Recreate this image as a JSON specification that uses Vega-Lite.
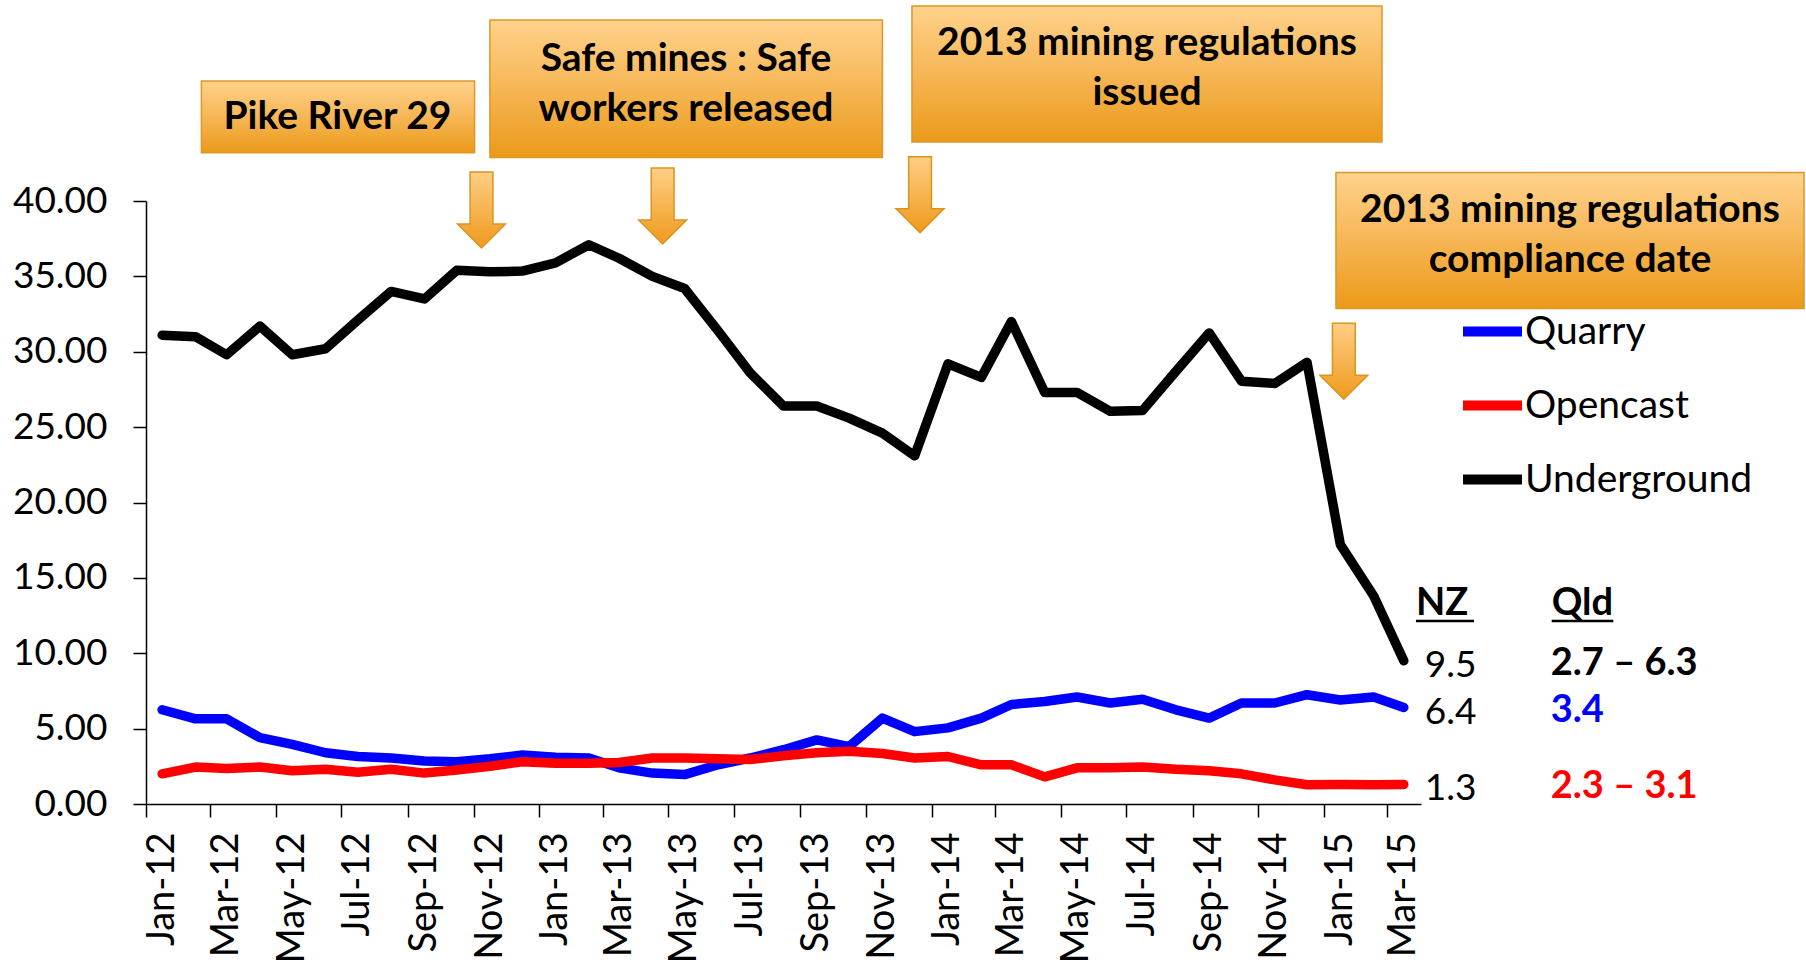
{
  "$schema": "https://vega.github.io/schema/vega-lite/v6.json",
  "width": 1275,
  "height": 603,
  "autosize": {"type": "none"},
  "padding": {"left": 146, "top": 201, "right": 385, "bottom": 161},
  "background": "white",
  "config": {"view": {"stroke": null}, "font": "Lato"},
  "datasets": {
    "rates": [
      {"date":"2012-01-01","Quarry":6.25,"Opencast":2.0,"Underground":31.1},
      {"date":"2012-02-01","Quarry":5.65,"Opencast":2.45,"Underground":31.0},
      {"date":"2012-03-01","Quarry":5.65,"Opencast":2.35,"Underground":29.8},
      {"date":"2012-04-01","Quarry":4.4,"Opencast":2.45,"Underground":31.7},
      {"date":"2012-05-01","Quarry":3.95,"Opencast":2.2,"Underground":29.8},
      {"date":"2012-06-01","Quarry":3.4,"Opencast":2.3,"Underground":30.2},
      {"date":"2012-07-01","Quarry":3.15,"Opencast":2.1,"Underground":32.1},
      {"date":"2012-08-01","Quarry":3.05,"Opencast":2.3,"Underground":34.0},
      {"date":"2012-09-01","Quarry":2.85,"Opencast":2.05,"Underground":33.5},
      {"date":"2012-10-01","Quarry":2.8,"Opencast":2.25,"Underground":35.4},
      {"date":"2012-11-01","Quarry":3.0,"Opencast":2.5,"Underground":35.3},
      {"date":"2012-12-01","Quarry":3.25,"Opencast":2.8,"Underground":35.35},
      {"date":"2013-01-01","Quarry":3.1,"Opencast":2.7,"Underground":35.9},
      {"date":"2013-02-01","Quarry":3.05,"Opencast":2.7,"Underground":37.1},
      {"date":"2013-03-01","Quarry":2.4,"Opencast":2.75,"Underground":36.2},
      {"date":"2013-04-01","Quarry":2.05,"Opencast":3.05,"Underground":35.0},
      {"date":"2013-05-01","Quarry":1.95,"Opencast":3.05,"Underground":34.2},
      {"date":"2013-06-01","Quarry":2.6,"Opencast":3.0,"Underground":31.4},
      {"date":"2013-07-01","Quarry":3.05,"Opencast":2.95,"Underground":28.6},
      {"date":"2013-08-01","Quarry":3.6,"Opencast":3.2,"Underground":26.4},
      {"date":"2013-09-01","Quarry":4.25,"Opencast":3.4,"Underground":26.4},
      {"date":"2013-10-01","Quarry":3.8,"Opencast":3.5,"Underground":25.6},
      {"date":"2013-11-01","Quarry":5.7,"Opencast":3.35,"Underground":24.6},
      {"date":"2013-12-01","Quarry":4.8,"Opencast":3.05,"Underground":23.1},
      {"date":"2014-01-01","Quarry":5.05,"Opencast":3.15,"Underground":29.2},
      {"date":"2014-02-01","Quarry":5.7,"Opencast":2.6,"Underground":28.3},
      {"date":"2014-03-01","Quarry":6.6,"Opencast":2.6,"Underground":32.0},
      {"date":"2014-04-01","Quarry":6.8,"Opencast":1.8,"Underground":27.3},
      {"date":"2014-05-01","Quarry":7.1,"Opencast":2.4,"Underground":27.3},
      {"date":"2014-06-01","Quarry":6.7,"Opencast":2.4,"Underground":26.05},
      {"date":"2014-07-01","Quarry":6.95,"Opencast":2.45,"Underground":26.1},
      {"date":"2014-08-01","Quarry":6.25,"Opencast":2.3,"Underground":28.7},
      {"date":"2014-09-01","Quarry":5.7,"Opencast":2.2,"Underground":31.25},
      {"date":"2014-10-01","Quarry":6.7,"Opencast":2.0,"Underground":28.05},
      {"date":"2014-11-01","Quarry":6.7,"Opencast":1.6,"Underground":27.9},
      {"date":"2014-12-01","Quarry":7.25,"Opencast":1.28,"Underground":29.3},
      {"date":"2015-01-01","Quarry":6.9,"Opencast":1.3,"Underground":17.2},
      {"date":"2015-02-01","Quarry":7.1,"Opencast":1.28,"Underground":13.8},
      {"date":"2015-03-01","Quarry":6.4,"Opencast":1.3,"Underground":9.5}
    ],
    "events": [
      {"event":"Pike River 29","start":"2012-02-06T13:00:00Z","end":"2012-10-17T16:00:00Z","top":47.96,"bottom":43.2,"mid":"2012-06-12T02:00:00Z","level":45.55},
      {"event":"Safe mines : Safe\nworkers released","start":"2012-10-31T22:00:00Z","end":"2013-11-01T00:00:00Z","top":52.01,"bottom":42.89,"mid":"2013-05-02T07:00:00Z","level":49.45},
      {"event":"2013 mining regulations\nissued","start":"2013-11-28T12:00:00Z","end":"2015-02-08T17:00:00Z","top":52.94,"bottom":43.91,"mid":"2014-07-05T02:00:00Z","level":50.45},
      {"event":"2013 mining regulations\ncompliance date","start":"2014-12-27T22:00:00Z","end":"2016-03-07T07:00:00Z","top":41.89,"bottom":32.87,"mid":"2015-08-02T14:00:00Z","level":39.4}
    ],
    "arrows": [
      {"date":"2012-10-24T02:00:00Z","level":39.4},
      {"date":"2013-04-10T14:00:00Z","level":39.67},
      {"date":"2013-12-06T00:00:00Z","level":40.42},
      {"date":"2015-01-04T05:00:00Z","level":29.37}
    ],
    "table": [
      {"mine":"Underground","nz":9.5,"qld":"2.7 – 6.3"},
      {"mine":"Quarry","nz":6.4,"qld":"3.4"},
      {"mine":"Opencast","nz":1.3,"qld":"2.3 – 3.1"}
    ],
    "heads": [
      {"col":"NZ","start":"2015-03-12T07:00:00Z","end":"2015-05-05T07:00:00Z"},
      {"col":"Qld","start":"2015-07-16T14:00:00Z","end":"2015-09-11T22:00:00Z"}
    ]
  },
  "layer": [
    {
      "data": {"name": "events"},
      "mark": {"type": "rect", "fill": "#000000", "opacity": 0.22, "xOffset": 4, "yOffset": 5},
      "encoding": {
        "x": {"field": "start", "type": "temporal"},
        "x2": {"field": "end"},
        "y": {"field": "top", "type": "quantitative"},
        "y2": {"field": "bottom"}
      }
    },
    {
      "data": {"name": "events"},
      "mark": {
        "type": "rect",
        "fill": {"gradient": "linear", "x1": 0, "y1": 0, "x2": 0, "y2": 1,
          "stops": [{"offset": 0, "color": "#FFD28C"}, {"offset": 0.5, "color": "#F6B655"}, {"offset": 1, "color": "#EB9A19"}]},
        "stroke": "#DD9726", "strokeWidth": 1.5
      },
      "encoding": {
        "x": {"field": "start", "type": "temporal"},
        "x2": {"field": "end"},
        "y": {"field": "top", "type": "quantitative"},
        "y2": {"field": "bottom"}
      }
    },
    {
      "data": {"name": "events"},
      "mark": {"type": "text", "font": "Lato", "fontWeight": "bold", "fontSize": 39, "lineHeight": 50, "lineBreak": "\n", "align": "center", "baseline": "middle", "color": "#000000"},
      "encoding": {
        "x": {"field": "mid", "type": "temporal"},
        "y": {"field": "level", "type": "quantitative"},
        "text": {"field": "event", "type": "nominal"}
      }
    },
    {
      "data": {"name": "arrows"},
      "mark": {
        "type": "point",
        "shape": "M-0.3,-1L0.3,-1L0.3,0.37L0.63,0.37L0,1L-0.63,0.37L-0.3,0.37Z",
        "size": 5776,
        "filled": true,
        "opacity": 1,
        "fill": {"gradient": "linear", "x1": 0, "y1": 0, "x2": 0, "y2": 1,
          "stops": [{"offset": 0, "color": "#FFCE85"}, {"offset": 1, "color": "#EE9A1C"}]},
        "stroke": "#D9951E", "strokeWidth": 1.5
      },
      "encoding": {
        "x": {"field": "date", "type": "temporal"},
        "y": {"field": "level", "type": "quantitative"}
      }
    },
    {
      "data": {"name": "rates"},
      "transform": [{"fold": ["Quarry", "Opencast", "Underground"], "as": ["mine", "rate"]}],
      "mark": {"type": "line", "strokeWidth": 9.5, "strokeCap": "round", "strokeJoin": "round"},
      "encoding": {
        "x": {
          "field": "date", "type": "temporal",
          "scale": {"type": "utc", "domain": [{"year": 2011, "month": 12, "date": 17, "utc": true}, {"year": 2015, "month": 3, "date": 17, "utc": true}]},
          "axis": {
            "values": [
              {"year": 2012, "month": 1, "date": 1, "utc": true}, {"year": 2012, "month": 3, "date": 1, "utc": true},
              {"year": 2012, "month": 5, "date": 1, "utc": true}, {"year": 2012, "month": 7, "date": 1, "utc": true},
              {"year": 2012, "month": 9, "date": 1, "utc": true}, {"year": 2012, "month": 11, "date": 1, "utc": true},
              {"year": 2013, "month": 1, "date": 1, "utc": true}, {"year": 2013, "month": 3, "date": 1, "utc": true},
              {"year": 2013, "month": 5, "date": 1, "utc": true}, {"year": 2013, "month": 7, "date": 1, "utc": true},
              {"year": 2013, "month": 9, "date": 1, "utc": true}, {"year": 2013, "month": 11, "date": 1, "utc": true},
              {"year": 2014, "month": 1, "date": 1, "utc": true}, {"year": 2014, "month": 3, "date": 1, "utc": true},
              {"year": 2014, "month": 5, "date": 1, "utc": true}, {"year": 2014, "month": 7, "date": 1, "utc": true},
              {"year": 2014, "month": 9, "date": 1, "utc": true}, {"year": 2014, "month": 11, "date": 1, "utc": true},
              {"year": 2015, "month": 1, "date": 1, "utc": true}, {"year": 2015, "month": 3, "date": 1, "utc": true}
            ],
            "labelExpr": "utcFormat(datum.value, '%b-%y')",
            "labelAngle": -90, "labelAlign": "right", "labelBaseline": "middle",
            "labelFont": "Lato", "labelFontSize": 38, "labelColor": "#000000", "labelPadding": 15,
            "labelOverlap": false, "labelFlush": false, "labelBound": false,
            "tickOffset": -16.35, "labelOffset": 16.35,
            "tickSize": 13, "tickColor": "#000000", "tickWidth": 1.5,
            "domainColor": "#000000", "domainWidth": 1.5,
            "grid": false, "title": null
          }
        },
        "y": {
          "field": "rate", "type": "quantitative",
          "scale": {"domain": [0, 40], "nice": false, "zero": false},
          "axis": {
            "values": [0, 5, 10, 15, 20, 25, 30, 35, 40],
            "format": ".2f",
            "labelFont": "Lato", "labelFontSize": 37, "labelColor": "#000000", "labelPadding": 26,
            "labelFlush": false, "labelOverlap": false,
            "tickSize": 13, "tickColor": "#000000", "tickWidth": 1.5,
            "domainColor": "#000000", "domainWidth": 1.5,
            "grid": false, "title": null
          }
        },
        "color": {
          "field": "mine", "type": "nominal",
          "scale": {"domain": ["Quarry", "Opencast", "Underground"], "range": ["#0000FF", "#FF0000", "#000000"]},
          "legend": {
            "orient": "none", "legendX": 1312, "legendY": 96, "title": null,
            "symbolType": "stroke", "symbolStrokeWidth": 10, "symbolSize": 3481,
            "labelFont": "Lato", "labelFontSize": 39, "labelColor": "#000000", "labelLimit": 0,
            "rowPadding": 19, "labelOffset": -2, "padding": 0
          }
        }
      }
    },
    {
      "data": {"name": "table"},
      "mark": {"type": "text", "font": "Lato", "fontSize": 37, "align": "left", "baseline": "middle", "dx": 21, "dy": 5, "color": "#000000"},
      "encoding": {
        "x": {"datum": {"year": 2015, "month": 3, "date": 1, "utc": true}, "type": "temporal"},
        "y": {"field": "nz", "type": "quantitative"},
        "text": {"field": "nz", "type": "quantitative", "format": ".1f"}
      }
    },
    {
      "data": {"name": "table"},
      "mark": {"type": "text", "font": "Lato", "fontWeight": "bold", "fontSize": 38, "align": "left", "baseline": "middle", "dx": 147, "dy": 3},
      "encoding": {
        "x": {"datum": {"year": 2015, "month": 3, "date": 1, "utc": true}, "type": "temporal"},
        "y": {"field": "nz", "type": "quantitative"},
        "text": {"field": "qld", "type": "nominal"},
        "color": {"field": "mine", "type": "nominal", "legend": null}
      }
    },
    {
      "data": {"name": "heads"},
      "mark": {"type": "text", "font": "Lato", "fontWeight": "bold", "fontSize": 38, "align": "left", "baseline": "alphabetic", "dx": 0, "color": "#000000"},
      "encoding": {
        "x": {"field": "start", "type": "temporal"},
        "y": {"datum": 12.54, "type": "quantitative"},
        "text": {"field": "col", "type": "nominal"}
      }
    },
    {
      "data": {"name": "heads"},
      "mark": {"type": "rule", "color": "#000000", "strokeWidth": 2.5},
      "encoding": {
        "x": {"field": "start", "type": "temporal"},
        "x2": {"field": "end"},
        "y": {"datum": 12.14, "type": "quantitative"}
      }
    }
  ]
}
